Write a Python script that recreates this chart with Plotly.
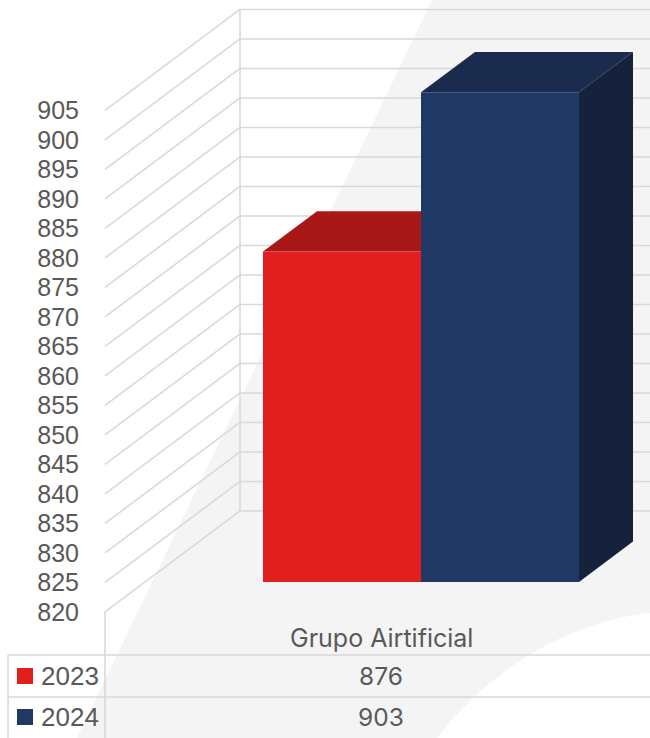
import plotly.graph_objects as go

# ---------------- data ----------------
categories = ["Grupo Airtificial"]
series_names = ["2023", "2024"]
values_2023 = [876]
values_2024 = [903]
tick_values = [820, 825, 830, 835, 840, 845, 850, 855, 860, 865, 870, 875, 880, 885, 890, 895, 900, 905]
axis_min = 820

series_values = [values_2023, values_2024]

# ---------------- styles / layout constants ----------------
W, H = 650, 738
PX_PER_UNIT = 5.9          # vertical pixels per value unit
BASELINE_PX = 582          # screen y of axis_min on the bars' front plane
DEPTH_SLOPE = 101 / 135    # oblique projection: dy per dx of depth
LABEL_DEPTH = -40          # front (label) plane relative to bar plane
WALL_DEPTH = 95            # back wall relative to bar plane
BAR_DEPTH = 54
WALL_X = 145               # x of the left wall on the bar plane
GROUP_CENTER = 421
BAR_W = 158
RIGHT_EDGE = 650

front_colors = ["#E11F1F", "#203864"]
top_colors = ["#A91818", "#1B2B4D"]
side_colors = ["#8E1414", "#16223C"]
grid_color = "#D9D9D9"
text_color = "#595959"
swoosh_color = "#F4F4F4"

ymin = axis_min - (H - BASELINE_PX) / PX_PER_UNIT
ymax = ymin + H / PX_PER_UNIT


def proj(x, v, depth):
    """Oblique projection of (x on bar plane, value, depth) -> data coords."""
    return x + depth, v + depth * DEPTH_SLOPE / PX_PER_UNIT


fig = go.Figure()

# ---------------- bars (drawn as projected faces) ----------------
n = len(series_names)
for ci, cat in enumerate(categories):
    for si in range(n):
        v = series_values[si][ci]
        x0 = GROUP_CENTER + (si - n / 2) * BAR_W
        x1 = x0 + BAR_W
        # side face
        pts = [proj(x1, axis_min, 0), proj(x1, v, 0), proj(x1, v, BAR_DEPTH), proj(x1, axis_min, BAR_DEPTH)]
        fig.add_trace(go.Scatter(x=[p[0] for p in pts] + [pts[0][0]], y=[p[1] for p in pts] + [pts[0][1]],
                                 mode="lines", fill="toself", fillcolor=side_colors[si],
                                 line=dict(width=0), hoverinfo="skip", showlegend=False))
        # top face
        pts = [proj(x0, v, 0), proj(x1, v, 0), proj(x1, v, BAR_DEPTH), proj(x0, v, BAR_DEPTH)]
        fig.add_trace(go.Scatter(x=[p[0] for p in pts] + [pts[0][0]], y=[p[1] for p in pts] + [pts[0][1]],
                                 mode="lines", fill="toself", fillcolor=top_colors[si],
                                 line=dict(width=0), hoverinfo="skip", showlegend=False))
        # front face
        pts = [proj(x0, axis_min, 0), proj(x1, axis_min, 0), proj(x1, v, 0), proj(x0, v, 0)]
        fig.add_trace(go.Scatter(x=[p[0] for p in pts] + [pts[0][0]], y=[p[1] for p in pts] + [pts[0][1]],
                                 mode="lines", fill="toself", fillcolor=front_colors[si],
                                 line=dict(width=0), name=series_names[si], hoverinfo="name+text",
                                 text=[str(v)] * 5, showlegend=False))

# invisible traces to attach the label axis and pixel axis
fig.add_trace(go.Scatter(x=[None], y=[None], yaxis="y2", showlegend=False, hoverinfo="skip"))
fig.add_trace(go.Scatter(x=[None], y=[None], yaxis="y3", showlegend=False, hoverinfo="skip"))

shapes = []

# background swoosh (pixel coords on y3)
shapes.append(dict(type="path", xref="x", yref="y3", layer="below", line=dict(width=0),
                   fillcolor=swoosh_color,
                   path="M 432,0 L 650,0 L 650,613 C 560,622 480,680 437,738 L 77,738 Z"))

# gridlines: diagonals + back wall horizontals
for t in tick_values:
    xa, ya = proj(WALL_X, t, LABEL_DEPTH)
    xb, yb = proj(WALL_X, t, WALL_DEPTH)
    shapes.append(dict(type="line", xref="x", yref="y", x0=xa, y0=ya, x1=xb, y1=yb,
                       line=dict(color=grid_color, width=1.6), layer="below"))
    shapes.append(dict(type="line", xref="x", yref="y", x0=xb, y0=yb, x1=RIGHT_EDGE, y1=yb,
                       line=dict(color=grid_color, width=1.6), layer="below"))
# left wall edge
xw0, yw0 = proj(WALL_X, tick_values[0], WALL_DEPTH)
xw1, yw1 = proj(WALL_X, tick_values[-1], WALL_DEPTH)
shapes.append(dict(type="line", xref="x", yref="y", x0=xw0, y0=yw0, x1=xw1, y1=yw1,
                   line=dict(color=grid_color, width=1.6), layer="below"))

# data table lines (pixel coords)
xl, _ = proj(WALL_X, axis_min, LABEL_DEPTH)
row_tops = [655, 697]
for ry in row_tops:
    shapes.append(dict(type="line", xref="x", yref="y3", x0=8, y0=ry, x1=RIGHT_EDGE, y1=ry,
                       line=dict(color=grid_color, width=1.6), layer="below"))
shapes.append(dict(type="line", xref="x", yref="y3", x0=8, y0=row_tops[0], x1=8, y1=H,
                   line=dict(color=grid_color, width=1.6), layer="below"))
shapes.append(dict(type="line", xref="x", yref="y3", x0=xl, y0=612, x1=xl, y1=H,
                   line=dict(color=grid_color, width=1.6), layer="below"))

annotations = []
table_center = 381
annotations.append(dict(x=table_center, y=638, xref="x", yref="y3", text=categories[0],
                        showarrow=False, font=dict(family="Inter", size=25, color=text_color)))
row_centers = [676, 717]
for si in range(n):
    cy = row_centers[si]
    shapes.append(dict(type="rect", xref="x", yref="y3", x0=17, x1=33, y0=cy - 8, y1=cy + 8,
                       fillcolor=front_colors[si], line=dict(width=0)))
    annotations.append(dict(x=39, y=cy, xref="x", yref="y3", text=series_names[si], xanchor="left",
                            showarrow=False, font=dict(family="Liberation Sans", size=26, color=text_color)))
    annotations.append(dict(x=table_center, y=cy, xref="x", yref="y3", text=str(series_values[si][0]),
                            showarrow=False, font=dict(family="Inter", size=24.5, color=text_color)))

label_shift = -LABEL_DEPTH * DEPTH_SLOPE / PX_PER_UNIT

fig.update_layout(
    width=W, height=H,
    margin=dict(l=0, r=0, t=0, b=0),
    paper_bgcolor="white", plot_bgcolor="white",
    showlegend=False,
    xaxis=dict(range=[0, W], visible=False, domain=[0, 1], fixedrange=True),
    yaxis=dict(range=[ymin, ymax], visible=False, fixedrange=True),
    yaxis2=dict(range=[ymin + label_shift, ymax + label_shift], overlaying="y", anchor="free",
                position=79 / W, side="left", tickvals=tick_values, ticks="", showgrid=False,
                showline=False, zeroline=False, fixedrange=True,
                tickfont=dict(family="Liberation Sans", size=25, color=text_color)),
    yaxis3=dict(range=[H, 0], overlaying="y", visible=False, fixedrange=True),
    shapes=shapes,
    annotations=annotations,
)

fig.write_html("out.html", config={"displayModeBar": False},
               post_script="document.body.style.margin='0px';document.body.style.overflow='hidden';")
